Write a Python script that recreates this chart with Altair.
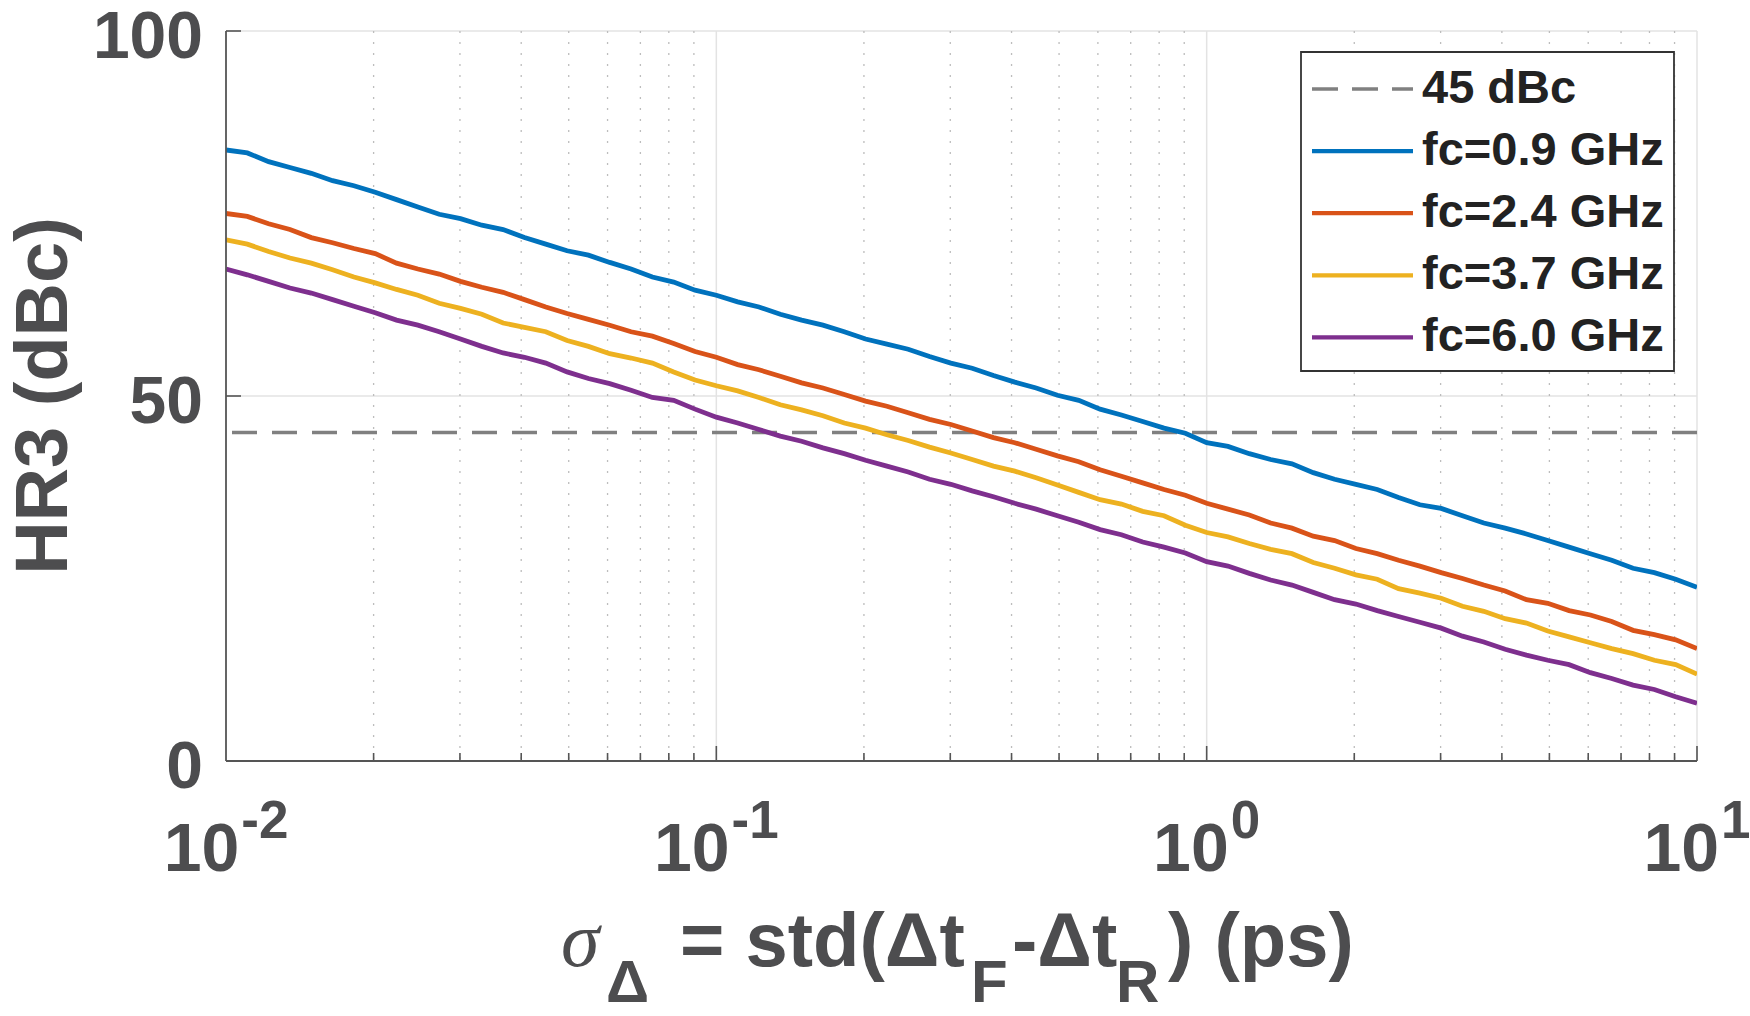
import altair as alt
import numpy as np
import pandas as pd

# ---- data -------------------------------------------------------------
SIGMA_PS = np.logspace(-2, 1, 70)

HR3_FC09 = [83.7, 83.3, 82.1, 81.3, 80.5, 79.5, 78.8, 77.9, 76.9, 75.9,
            74.9, 74.3, 73.4, 72.8, 71.7, 70.8, 69.9, 69.3, 68.3, 67.4,
            66.3, 65.6, 64.5, 63.8, 62.9, 62.2, 61.2, 60.4, 59.7, 58.8,
            57.8, 57.1, 56.4, 55.4, 54.5, 53.8, 52.8, 51.9, 51.1, 50.1,
            49.4, 48.2, 47.4, 46.5, 45.6, 44.9, 43.6, 43.1, 42.1, 41.3,
            40.7, 39.5, 38.6, 37.9, 37.2, 36.1, 35.1, 34.6, 33.6, 32.6,
            31.9, 31.1, 30.2, 29.3, 28.4, 27.5, 26.4, 25.8, 24.9, 23.8]
HR3_FC24 = [75.0, 74.6, 73.6, 72.8, 71.7, 71.0, 70.2, 69.5, 68.2, 67.4,
            66.7, 65.7, 64.9, 64.2, 63.2, 62.2, 61.3, 60.5, 59.7, 58.8,
            58.2, 57.2, 56.1, 55.3, 54.3, 53.6, 52.7, 51.8, 51.1, 50.2,
            49.3, 48.6, 47.7, 46.8, 46.1, 45.2, 44.3, 43.6, 42.7, 41.8,
            41.0, 39.9, 39.0, 38.1, 37.2, 36.4, 35.3, 34.5, 33.7, 32.6,
            31.9, 30.8, 30.2, 29.1, 28.4, 27.5, 26.7, 25.8, 25.0, 24.1,
            23.3, 22.1, 21.6, 20.6, 20.0, 19.1, 17.9, 17.3, 16.6, 15.4]
HR3_FC37 = [71.4, 70.8, 69.8, 68.9, 68.2, 67.3, 66.3, 65.5, 64.6, 63.8,
            62.7, 62.0, 61.2, 60.0, 59.4, 58.8, 57.6, 56.8, 55.8, 55.2,
            54.5, 53.3, 52.2, 51.4, 50.7, 49.8, 48.8, 48.1, 47.3, 46.3,
            45.6, 44.7, 43.9, 43.0, 42.2, 41.3, 40.4, 39.7, 38.8, 37.8,
            36.8, 35.8, 35.2, 34.2, 33.6, 32.3, 31.3, 30.7, 29.8, 29.0,
            28.4, 27.2, 26.4, 25.5, 24.9, 23.6, 23.0, 22.3, 21.2, 20.5,
            19.5, 18.9, 17.8, 17.0, 16.2, 15.4, 14.7, 13.8, 13.2, 11.9]
HR3_FC60 = [67.4, 66.6, 65.7, 64.8, 64.1, 63.2, 62.3, 61.4, 60.4, 59.7,
            58.8, 57.8, 56.8, 55.9, 55.3, 54.5, 53.3, 52.4, 51.7, 50.8,
            49.8, 49.4, 48.2, 47.1, 46.3, 45.4, 44.5, 43.8, 42.9, 42.1,
            41.2, 40.4, 39.6, 38.6, 37.9, 37.0, 36.2, 35.3, 34.5, 33.6,
            32.7, 31.7, 31.0, 30.0, 29.3, 28.5, 27.3, 26.7, 25.7, 24.8,
            24.1, 23.1, 22.1, 21.5, 20.6, 19.8, 19.0, 18.2, 17.1, 16.3,
            15.3, 14.5, 13.8, 13.2, 12.1, 11.3, 10.4, 9.8, 8.8, 7.9]

SERIES = ["fc=0.9 GHz", "fc=2.4 GHz", "fc=3.7 GHz", "fc=6.0 GHz"]
COLORS = ["#0072BD", "#D95319", "#EDB120", "#7E2F8E"]
LIMIT_DBC = 45
LIMIT_LABEL = "45 dBc"

X_DECADES = [-2, -1, 0, 1]
Y_TICKS = [0, 50, 100]
Y_TICK_LABELS = ["0", "50", "100"]

# ---- layout -----------------------------------------------------------
W, H = 1471, 730
PAD = {"left": 226, "top": 31, "right": 53, "bottom": 255}
FONT = "Liberation Sans"
AX_COLOR = "#555555"
LABEL_COLOR = "#4d4d4f"
GRID_COLOR = "#e3e3e3"

xscale = alt.Scale(type="log", domain=[0.01, 10], nice=False)
yscale = alt.Scale(domain=[0, 100], nice=False)


def X(field):
    return alt.X(field, scale=xscale, axis=None)


def Y(field):
    return alt.Y(field, scale=yscale, axis=None)


rows = []
for name, vals in zip(SERIES, [HR3_FC09, HR3_FC24, HR3_FC37, HR3_FC60]):
    for s, v in zip(SIGMA_PS, vals):
        rows.append({"sigma": float(s), "hr3": v, "series": name})
df = pd.DataFrame(rows)

# grid positions: dotted at 2..9 x each decade, solid at decades
minor = [m * 10.0 ** d for d in X_DECADES[:-1] for m in range(2, 10)]
major = [10.0 ** d for d in X_DECADES]

grid_x = alt.Chart(pd.DataFrame({"x": major[1:]})).mark_rule(
    color=GRID_COLOR, strokeWidth=1.5).encode(x=X("x:Q"))
grid_y = alt.Chart(pd.DataFrame({"y": Y_TICKS[1:]})).mark_rule(
    color=GRID_COLOR, strokeWidth=1.5).encode(y=Y("y:Q"))
minor_grid = alt.Chart(pd.DataFrame({"x": minor})).mark_rule(
    color="#bdbdbd", strokeWidth=1.3, strokeDash=[2, 9]).encode(x=X("x:Q"))

limit = alt.Chart(pd.DataFrame({"y": [LIMIT_DBC]})).mark_rule(
    color="#808080", strokeWidth=3.5, strokeDash=[25, 15]).encode(y=Y("y:Q"))

lines = alt.Chart(df).mark_line(strokeWidth=4.8, clip=True).encode(
    x=X("sigma:Q"),
    y=Y("hr3:Q"),
    color=alt.Color("series:N", scale=alt.Scale(domain=SERIES, range=COLORS), legend=None),
    detail="series:N",
)

# axis lines and inward ticks
one = pd.DataFrame({"a": [0]})
y_domain = alt.Chart(one).mark_rule(color=AX_COLOR, strokeWidth=1.8).encode(
    x=alt.value(0), y=alt.value(0), y2=alt.value(H))
x_domain = alt.Chart(one).mark_rule(color=AX_COLOR, strokeWidth=1.8).encode(
    y=alt.value(H), x=alt.value(0), x2=alt.value(W))
major_ticks = alt.Chart(pd.DataFrame({"x": major[1:]})).mark_rule(
    color=AX_COLOR, strokeWidth=1.6).encode(x=X("x:Q"), y=alt.value(H), y2=alt.value(H - 15))
minor_ticks = alt.Chart(pd.DataFrame({"x": minor})).mark_rule(
    color=AX_COLOR, strokeWidth=1.6).encode(x=X("x:Q"), y=alt.value(H), y2=alt.value(H - 8))
y_ticks = alt.Chart(pd.DataFrame({"y": Y_TICKS[1:]})).mark_rule(
    color=AX_COLOR, strokeWidth=1.6).encode(y=Y("y:Q"), x=alt.value(0), x2=alt.value(15))

y_labels = alt.Chart(pd.DataFrame({"y": Y_TICKS, "t": Y_TICK_LABELS})).mark_text(
    font=FONT, fontSize=66, fontWeight="bold", color=LABEL_COLOR,
    align="right", baseline="middle", dx=-23, dy=7
).encode(y=Y("y:Q"), x=alt.value(0), text="t:N")

layers = [grid_x, grid_y, minor_grid, limit, lines,
          y_domain, x_domain, major_ticks, minor_ticks, y_ticks, y_labels]

# x tick labels as 10^n
BASE_SIZE, EXP_SIZE = 68, 53
for d in X_DECADES:
    exp = str(d)
    w_base = 1.112 * BASE_SIZE
    w_exp = (0.333 * exp.count("-") + 0.556 * sum(c.isdigit() for c in exp)) * EXP_SIZE
    total = w_base + 2 + w_exp
    pos = pd.DataFrame({"x": [10.0 ** d], "b": ["10"], "e": [exp]})
    layers.append(alt.Chart(pos).mark_text(
        font=FONT, fontSize=BASE_SIZE, fontWeight="bold", color=LABEL_COLOR,
        align="left", baseline="alphabetic", dx=-total / 2
    ).encode(x=X("x:Q"), y=alt.value(840), text="b:N"))
    layers.append(alt.Chart(pos).mark_text(
        font=FONT, fontSize=EXP_SIZE, fontWeight="bold", color=LABEL_COLOR,
        align="left", baseline="alphabetic", dx=-total / 2 + w_base + 2
    ).encode(x=X("x:Q"), y=alt.value(807), text="e:N"))


def label(text, x, y, size, **kw):
    style = dict(font=FONT, fontSize=size, fontWeight="bold", color=LABEL_COLOR,
                 align="left", baseline="alphabetic")
    style.update(kw)
    return alt.Chart(pd.DataFrame({"t": [text]})).mark_text(**style).encode(
        x=alt.value(x), y=alt.value(y), text="t:N")


# x-axis title with sub-scripts
MAIN, SUB = 76, 60
BASE_Y, SUB_Y = 935, 971
layers += [
    label("σ", 335, BASE_Y, 78, font="Liberation Serif", fontWeight="normal", fontStyle="italic"),
    label("Δ", 380, SUB_Y, SUB),
    label("= std(Δt", 454, BASE_Y, MAIN),
    label("F", 745, SUB_Y, SUB),
    label("-Δt", 786, BASE_Y, MAIN),
    label("R", 890, SUB_Y, SUB),
    label(") (ps)", 942, BASE_Y, MAIN),
    label("HR3 (dBc)", -181, H / 2, 74, align="center", baseline="middle", angle=270),
]

# legend box
LEG_X0, LEG_X1, LEG_Y0, LEG_Y1 = 1075, 1448, 21, 340
layers.append(alt.Chart(one).mark_rect(
    fill="white", stroke="#333333", strokeWidth=1.8
).encode(x=alt.value(LEG_X0), x2=alt.value(LEG_X1), y=alt.value(LEG_Y0), y2=alt.value(LEG_Y1)))

leg_names = [LIMIT_LABEL] + SERIES
leg_colors = ["#808080"] + COLORS
for k, (name, col) in enumerate(zip(leg_names, leg_colors)):
    ry = 58 + 62.1 * k
    dash = [26, 14] if k == 0 else [1, 0]
    layers.append(alt.Chart(one).mark_rule(
        color=col, strokeWidth=4.3 if k else 3.5, strokeDash=dash
    ).encode(x=alt.value(1086), x2=alt.value(1187), y=alt.value(ry)))
    layers.append(label(name, 1196, ry, 47, color="#222222", baseline="middle"))

chart = alt.layer(*layers).properties(
    width=W, height=H, padding=PAD, autosize="none", background="white"
).configure_view(stroke=None)

chart.save("out.html", embed_options={"renderer": "svg", "actions": False})
